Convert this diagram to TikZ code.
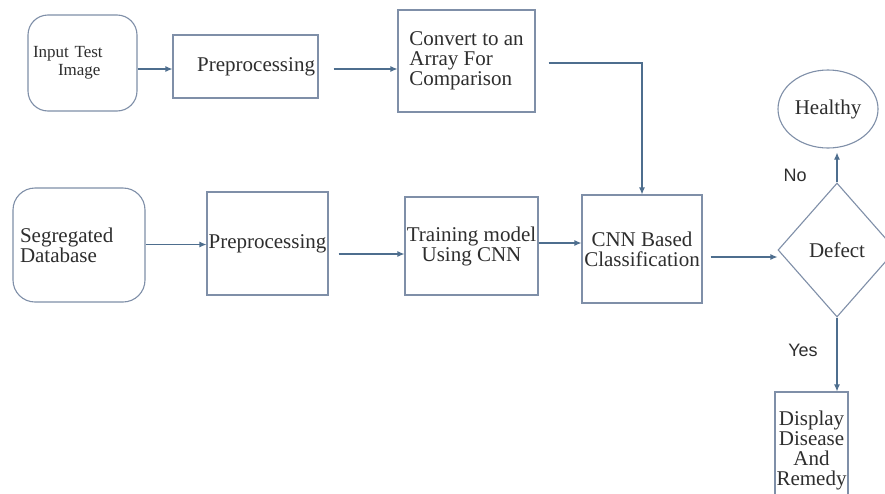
\documentclass[tikz,border=0pt]{standalone}
\usepackage{fontspec}
\setmainfont{Liberation Serif}
\newfontfamily\lblfont{Liberation Sans}
\usetikzlibrary{shapes.geometric,arrows.meta}
\definecolor{edgec}{HTML}{4E6E8E}
\definecolor{boxc}{HTML}{7F8FA8}
\definecolor{txtc}{HTML}{2E2E2E}
\begin{document}
\begin{tikzpicture}[x=1pt,y=-1pt,
  box/.style={draw=boxc, line width=1.1pt, inner sep=0pt, text=txtc, font=\fontsize{21}{20}\selectfont, align=center},
  arr/.style={draw=edgec, line width=1.1pt, -{Latex[length=7pt,width=6pt]}},
  lbl/.style={text=txtc, font=\lblfont\fontsize{18}{20}\selectfont}]
\useasboundingbox[fill=white] (0,0) rectangle (885,493);

\node[box, rounded corners=20pt, minimum width=109pt, minimum height=96pt, inner xsep=5pt, text width=99pt, align=left, font=\fontsize{17}{18}\selectfont] (input) at (82.5,63) {Input Test\\\hspace*{25pt}Image};
\node[box, minimum width=145pt, minimum height=63pt, inner xsep=3pt, text width=139pt, align=right] (pre1) at (245.5,66.5) {Preprocessing};
\node[box, minimum width=137pt, minimum height=102pt, align=left] (convert) at (466.5,61) {Convert to an\\Array For\\Comparison};

\node[box, rounded corners=22pt, minimum width=132pt, minimum height=114pt, inner xsep=7pt, text width=118pt, align=left] (seg) at (79,245) {Segregated\\Database};
\node[box, minimum width=121pt, minimum height=103pt] (pre2) at (267.5,243.5) {Preprocessing};
\node[box, minimum width=133pt, minimum height=98pt] (train) at (471.5,246) {Training model\\Using CNN};
\node[box, minimum width=120pt, minimum height=108pt] (cnn) at (642,249) {CNN Based\\Classification};

\node[box, shape=diamond, minimum width=118pt, minimum height=134pt] (defect) at (837,250) {Defect};
\node[box, shape=ellipse, minimum width=100pt, minimum height=78pt] (healthy) at (828,109) {Healthy};
\node[box, minimum width=73pt, minimum height=116pt] (display) at (811.5,450) {Display\\Disease\\And\\Remedy};

\node[lbl] (no) at (795,175) {No};
\node[lbl] (yes) at (803,350) {Yes};

\draw[arr] ([yshift=-2.5pt]pre1.west -| input.east) -- ([yshift=-2.5pt]pre1.west);
\draw[arr, shorten <=15pt] ([yshift=-2.5pt]pre1.east) -- ([yshift=-2.5pt]pre1.east -| convert.west);
\draw[arr, shorten <=13pt] ([yshift=-2pt]convert.east) -| (cnn.north);
\draw[arr] ([yshift=-1pt]pre2.west -| seg.east) -- ([yshift=-1pt]pre2.west);
\draw[arr, shorten <=10pt] ([yshift=-10.5pt]pre2.east) -- ([yshift=-10.5pt]pre2.east -| train.west);
\draw[arr] ([yshift=3pt]train.east) -- ([yshift=3pt]train.east -| cnn.west);
\draw[arr, shorten <=8pt] ([yshift=-8pt]cnn.east) -- ([yshift=-8pt]cnn.east -| defect.west);
\draw[arr, shorten >=4pt] (defect.north) -- (defect.north |- healthy.south);
\draw[arr] (defect.south) -- (defect.south |- display.north);
\end{tikzpicture}
\end{document}
